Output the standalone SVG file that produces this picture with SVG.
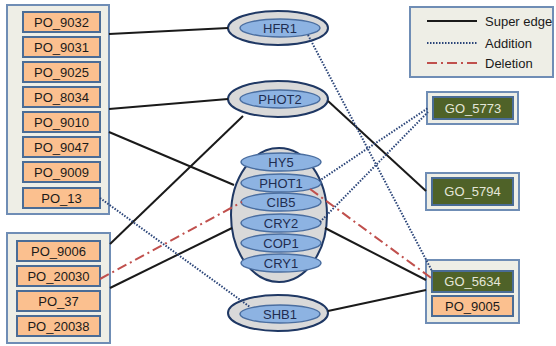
<svg xmlns="http://www.w3.org/2000/svg" width="556" height="346" viewBox="0 0 556 346">
<style>
.cont{fill:#eeeee6;stroke:#6f8db5;stroke-width:2}
.po{fill:#fbc08f;stroke:#4a6c96;stroke-width:2}
.go{fill:#4f6228;stroke:#4a6c96;stroke-width:2}
.t{font-family:"Liberation Sans",Arial,sans-serif;font-size:13px;text-anchor:middle;fill:#1a1a1a}
.gt{font-family:"Liberation Sans",Arial,sans-serif;font-size:13px;text-anchor:middle;fill:#e4e6d8}
.outer{fill:#d9d9d9;stroke:#1f3864;stroke-width:2}
.inner{fill:#8db3e2;stroke:#4a6ea0;stroke-width:1.5}
.et{font-family:"Liberation Sans",Arial,sans-serif;font-size:13px;text-anchor:middle;fill:#1f2d50}
.lt{font-family:"Liberation Sans",Arial,sans-serif;font-size:13px;fill:#1a1a1a}
.sup{stroke:#1a1a1a;stroke-width:2;fill:none}
.add{stroke:#2a4478;stroke-width:2;stroke-dasharray:1.5 1.5;fill:none}
.del{stroke:#c0504d;stroke-width:2;stroke-dasharray:10 4 2 4;fill:none}
</style>
<rect width="556" height="346" fill="#ffffff"/>

<g id="legend">
<rect x="410" y="7" width="143" height="70" class="cont"/>
<line x1="427" y1="21" x2="477" y2="21" class="sup"/>
<line x1="427" y1="43" x2="477" y2="43" class="add"/>
<line x1="427" y1="63" x2="477" y2="63" class="del"/>
<text x="485" y="26" class="lt">Super edge</text>
<text x="485" y="48" class="lt">Addition</text>
<text x="485" y="68" class="lt">Deletion</text>
</g>

<g id="po_group1">
<rect x="7" y="5" width="102" height="209" class="cont"/>
<rect x="23" y="12" width="77" height="20" class="po"/><text x="61.5" y="27" class="t">PO_9032</text>
<rect x="23" y="37" width="77" height="20" class="po"/><text x="61.5" y="52" class="t">PO_9031</text>
<rect x="23" y="62" width="77" height="20" class="po"/><text x="61.5" y="77" class="t">PO_9025</text>
<rect x="23" y="87" width="77" height="20" class="po"/><text x="61.5" y="102" class="t">PO_8034</text>
<rect x="23" y="112" width="77" height="20" class="po"/><text x="61.5" y="127" class="t">PO_9010</text>
<rect x="23" y="137" width="77" height="20" class="po"/><text x="61.5" y="152" class="t">PO_9047</text>
<rect x="23" y="162" width="77" height="20" class="po"/><text x="61.5" y="177" class="t">PO_9009</text>
<rect x="23" y="188" width="77" height="20" class="po"/><text x="61.5" y="203" class="t">PO_13</text>
</g>

<g id="po_group2">
<rect x="7" y="233" width="103" height="110" class="cont"/>
<rect x="17" y="241" width="83" height="20" class="po"/><text x="58.5" y="256" class="t">PO_9006</text>
<rect x="17" y="266" width="83" height="20" class="po"/><text x="58.5" y="281" class="t">PO_20030</text>
<rect x="17" y="291" width="83" height="20" class="po"/><text x="58.5" y="306" class="t">PO_37</text>
<rect x="17" y="316" width="83" height="20" class="po"/><text x="58.5" y="331" class="t">PO_20038</text>
</g>

<g id="HFR1">
<ellipse cx="278" cy="28" rx="50" ry="17" class="outer"/>
<ellipse cx="280" cy="28" rx="40" ry="9" class="inner"/>
<text x="280" y="33" class="et">HFR1</text>
</g>

<g id="PHOT2">
<ellipse cx="278" cy="99" rx="50" ry="18" class="outer"/>
<ellipse cx="280" cy="99" rx="40" ry="9" class="inner"/>
<text x="280" y="104" class="et">PHOT2</text>
</g>

<g id="complex">
<ellipse cx="279" cy="215" rx="48" ry="67" class="outer"/>
<ellipse cx="281" cy="162" rx="40" ry="9" class="inner"/><text x="281" y="167" class="et">HY5</text>
<ellipse cx="281" cy="183" rx="40" ry="9" class="inner"/><text x="281" y="188" class="et">PHOT1</text>
<ellipse cx="281" cy="202" rx="40" ry="9" class="inner"/><text x="281" y="207" class="et">CIB5</text>
<ellipse cx="281" cy="223" rx="40" ry="9" class="inner"/><text x="281" y="228" class="et">CRY2</text>
<ellipse cx="281" cy="243" rx="40" ry="9" class="inner"/><text x="281" y="248" class="et">COP1</text>
<ellipse cx="281" cy="263" rx="40" ry="9" class="inner"/><text x="281" y="268" class="et">CRY1</text>
</g>

<g id="SHB1">
<ellipse cx="278" cy="313" rx="50" ry="18" class="outer"/>
<ellipse cx="280" cy="314" rx="40" ry="9" class="inner"/>
<text x="280" y="319" class="et">SHB1</text>
</g>

<g id="GO_5773">
<rect x="427" y="92" width="91" height="32" class="cont"/>
<rect x="433" y="97" width="80" height="22" class="go"/>
<text x="473" y="113" class="gt">GO_5773</text>
</g>

<g id="GO_5794">
<rect x="426" y="173" width="93" height="37" class="cont"/>
<rect x="432" y="178" width="81" height="27" class="go"/>
<text x="472.5" y="196" class="gt">GO_5794</text>
</g>

<g id="GO_5634_group">
<rect x="426" y="260" width="93" height="63" class="cont"/>
<rect x="432" y="271" width="81" height="21" class="go"/>
<text x="472.5" y="286" class="gt">GO_5634</text>
<rect x="432" y="296" width="81" height="20" class="po"/>
<text x="472.5" y="311" class="t">PO_9005</text>
</g>

<g id="connectors">
<line x1="109" y1="34" x2="228" y2="28" class="sup"/>
<line x1="109" y1="109" x2="228" y2="99" class="sup"/>
<line x1="109" y1="132" x2="234" y2="185" class="sup"/>
<line x1="110" y1="244" x2="243" y2="116" class="sup"/>
<line x1="110" y1="288" x2="232" y2="228" class="sup"/>
<line x1="328" y1="101" x2="426" y2="191" class="sup"/>
<line x1="325" y1="228" x2="426" y2="280" class="sup"/>
<line x1="328" y1="311" x2="426" y2="290" class="sup"/>
<line x1="100" y1="198" x2="250" y2="307" class="add"/>
<line x1="308" y1="35" x2="432" y2="271" class="add"/>
<line x1="319" y1="181" x2="428" y2="108" class="add"/>
<line x1="320" y1="222" x2="428" y2="112" class="add"/>
<line x1="100" y1="279" x2="242" y2="202" class="del"/>
<line x1="310" y1="189" x2="434" y2="280" class="del"/>
</g>
</svg>
